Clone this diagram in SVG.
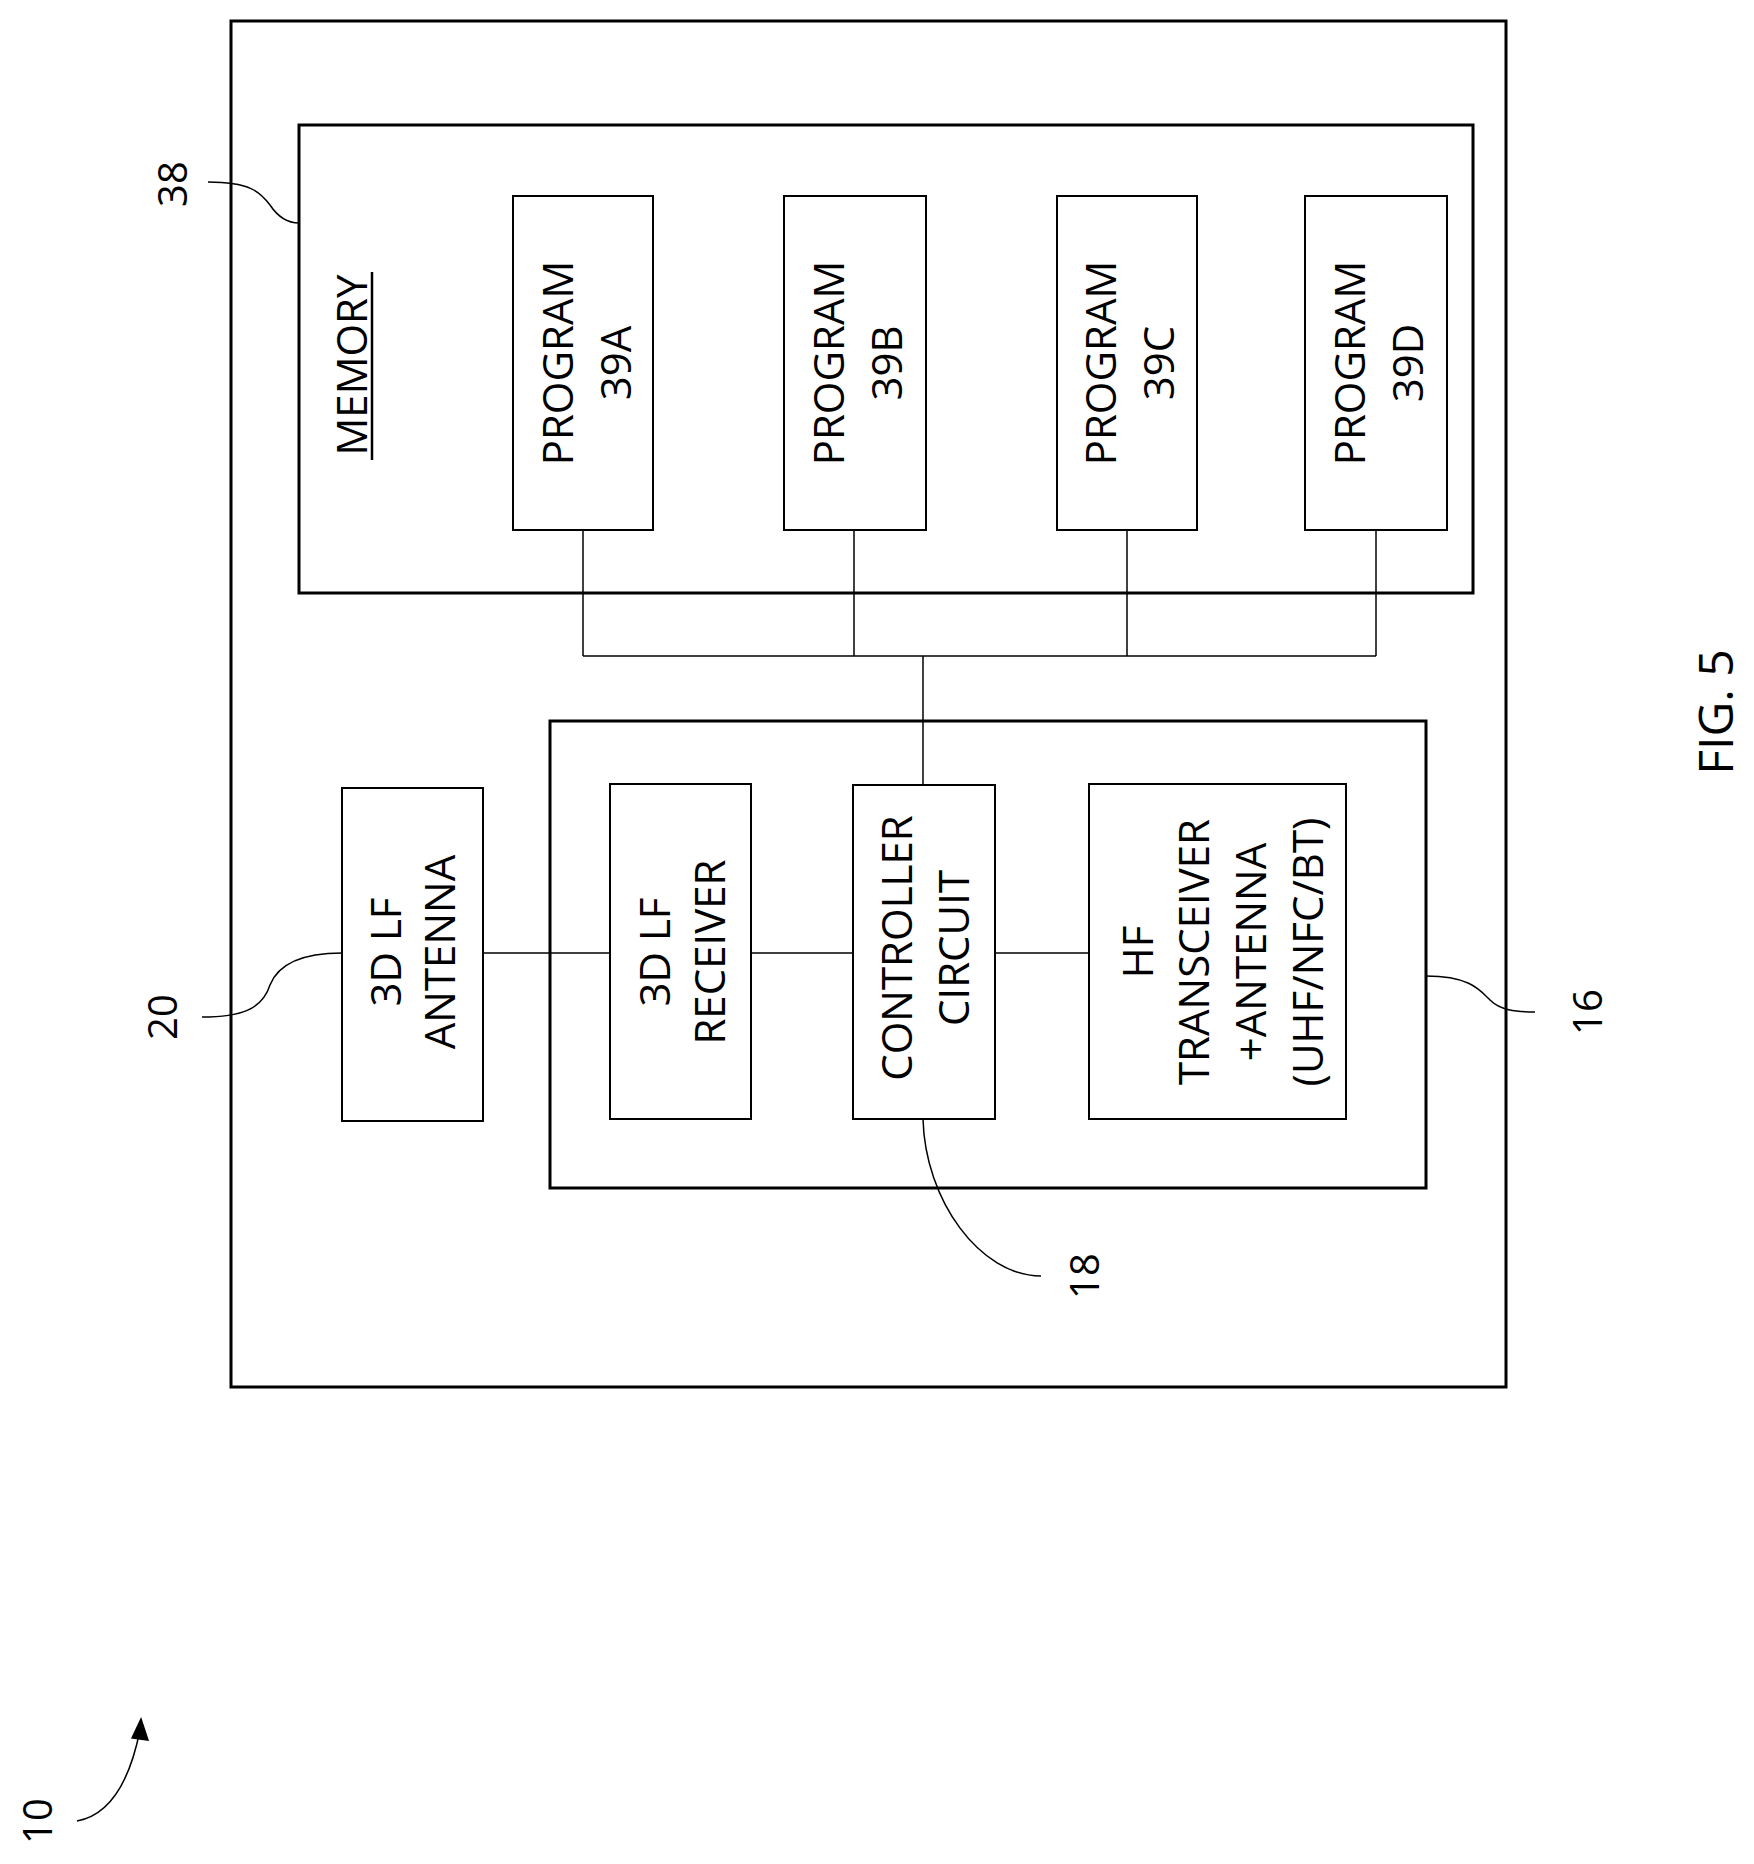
<svg xmlns="http://www.w3.org/2000/svg" width="1754" height="1864" viewBox="0 0 1754 1864">
<style>
rect{fill:none;stroke:#000;stroke-width:3}
.n rect{stroke-width:2}
line,path{fill:none;stroke:#000;stroke-width:1.5}
text{font-family:"Open Sans","Liberation Sans",sans-serif;font-size:42px;text-anchor:middle;dominant-baseline:central;fill:#000}
.lb{font-size:40px}
</style>
<rect width="1754" height="1864" style="fill:#fff;stroke:none"/>
<g id="device"><rect x="231" y="21" width="1275" height="1366"/></g>
<g id="memory"><rect x="299" y="125" width="1174" height="468"/>
<text transform="translate(350,365) rotate(-90)">MEMORY</text>
<line x1="372" y1="272" x2="372" y2="460" style="stroke-width:2.5"/></g>
<g id="p39A" class="n"><rect x="513" y="196" width="140" height="334"/>
<text transform="translate(556,363) rotate(-90)">PROGRAM</text><text transform="translate(614,363) rotate(-90)">39A</text></g>
<g id="p39B" class="n"><rect x="784" y="196" width="142" height="334"/>
<text transform="translate(827,363) rotate(-90)">PROGRAM</text><text transform="translate(885,363) rotate(-90)">39B</text></g>
<g id="p39C" class="n"><rect x="1057" y="196" width="140" height="334"/>
<text transform="translate(1099,363) rotate(-90)">PROGRAM</text><text transform="translate(1157,363) rotate(-90)">39C</text></g>
<g id="p39D" class="n"><rect x="1305" y="196" width="142" height="334"/>
<text transform="translate(1348,363) rotate(-90)">PROGRAM</text><text transform="translate(1406,363) rotate(-90)">39D</text></g>
<g id="module16"><rect x="550" y="721" width="876" height="467"/></g>
<g id="antenna" class="n"><rect x="342" y="788" width="141" height="333"/>
<text transform="translate(384,952) rotate(-90)">3D LF</text><text transform="translate(438,952) rotate(-90)">ANTENNA</text></g>
<g id="receiver" class="n"><rect x="610" y="784" width="141" height="335"/>
<text transform="translate(653,952) rotate(-90)">3D LF</text><text transform="translate(708,952) rotate(-90)">RECEIVER</text></g>
<g id="controller" class="n"><rect x="853" y="785" width="142" height="334"/>
<text transform="translate(895,948) rotate(-90)">CONTROLLER</text><text transform="translate(952,948) rotate(-90)">CIRCUIT</text></g>
<g id="hf" class="n"><rect x="1089" y="784" width="257" height="335"/>
<text transform="translate(1136,952) rotate(-90)">HF</text><text transform="translate(1192,952) rotate(-90)">TRANSCEIVER</text><text transform="translate(1249,952) rotate(-90)">+ANTENNA</text><text transform="translate(1306,952) rotate(-90)">(UHF/NFC/BT)</text></g>
<g id="connectors">
<line x1="583" y1="530" x2="583" y2="656"/><line x1="854" y1="530" x2="854" y2="656"/>
<line x1="1127" y1="530" x2="1127" y2="656"/><line x1="1376" y1="530" x2="1376" y2="656"/>
<line x1="583" y1="656" x2="1376" y2="656"/><line x1="923" y1="656" x2="923" y2="785"/>
<line x1="483" y1="953" x2="610" y2="953"/><line x1="751" y1="953" x2="853" y2="953"/><line x1="995" y1="953" x2="1089" y2="953"/>
</g>
<g id="labels">
<text class="lb" transform="translate(171,184) rotate(-90)">38</text>
<path d="M208,182 C250,182 260,192 270,205 C280,220 290,223 299,223"/>
<text class="lb" transform="translate(161,1017) rotate(-90)">20</text>
<path d="M202,1017 C240,1017 262,1010 270,985 C280,960 310,953 342,953"/>
<text class="lb" transform="translate(1586,1012) rotate(-90)">16</text>
<path d="M1426,976 C1470,976 1480,990 1490,1000 C1500,1010 1515,1012 1535,1012"/>
<text class="lb" transform="translate(1083,1276) rotate(-90)">18</text>
<path d="M923,1119 C925,1200 980,1276 1041,1276"/>
<text class="lb" transform="translate(36,1821) rotate(-90)">10</text>
<path d="M77,1821 C110,1815 130,1780 140,1730"/>
<path d="M132,1738 L141,1719 L148,1740 Z" style="fill:#000"/>
<text transform="translate(1714,712) rotate(-90)" style="font-size:48px">FIG. 5</text>
</g>
</svg>
